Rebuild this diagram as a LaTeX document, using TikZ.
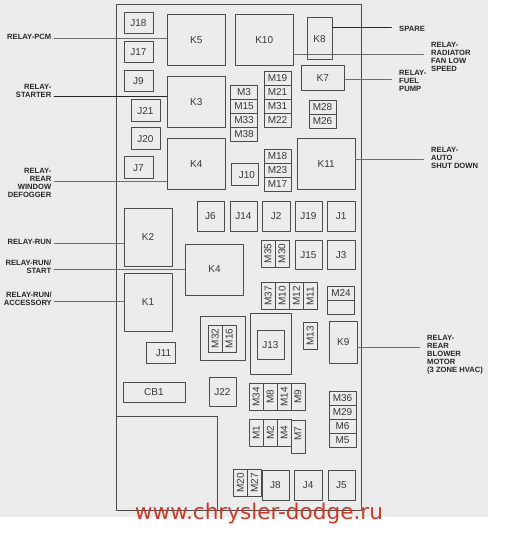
\documentclass[tikz,border=0pt]{standalone}
\usepackage{fontspec}
\setmainfont{Liberation Sans}
\newfontfamily\webfont{DejaVu Sans}
\usetikzlibrary{calc}
\definecolor{panelgrey}{RGB}{236,236,236}
\definecolor{boxline}{RGB}{75,75,75}
\definecolor{softink}{RGB}{55,55,55}
\definecolor{webred}{RGB}{200,58,40}
\tikzset{
  every node/.style={font=\fontsize{10}{10}\selectfont, text=softink},
  fuse/.style={draw=boxline, fill=panelgrey, line width=0.9pt, inner sep=0pt,
    anchor=north west},
  cell/.style={draw=boxline, fill=panelgrey, line width=0.8pt, inner sep=0pt,
    minimum width=27pt, minimum height=14pt},
  vcell/.style={cell, rotate=90},
  leader/.style={draw=boxline!80, line width=0.8pt},
  dark leader/.style={draw=black!85, line width=0.8pt},
  tag/.style={font=\fontsize{7.6}{8}\selectfont\bfseries, text=black!85, inner sep=0pt},
  left tag/.style={tag, align=right, anchor=east},
  right tag/.style={tag, align=left, anchor=west}
}
\begin{document}
\begin{tikzpicture}[x=1pt,y=-1pt,line cap=round,line join=round]
  \useasboundingbox (0,0) rectangle (515,537);
  \fill[panelgrey] (0,0) rectangle (488,517);

  % housing
  \draw[boxline, line width=1pt] (116.5,4.5) rectangle (361.5,510);
  \draw[boxline, line width=1pt] (116.5,416.5) -- (217.5,416.5) -- (217.5,510);

  % outlines round the small groups
  \node[fuse, minimum width=45pt, minimum height=44pt] (M32 frame) at (199.5,316) {};
  \node[fuse, minimum width=41pt, minimum height=61pt] (J13 frame) at (249.5,313) {};

  % relays and junction blocks
  \foreach \nm/\txt/\xa/\ya/\w/\h in {
    J18/J18/123.5/12/29/21, J17/J17/123.5/41/29/21, J9/J9/123.5/70/29/21,
    J21/J21/130.5/99.5/29/21.5, J20/J20/130.5/127.5/29/21.5, J7/J7/123.5/156.5/29/21.5,
    K5/K5/167/14.5/57.5/50.5, K10/K10/235/14.5/57.5/50.5, K8/K8/306.5/17.5/25/42,
    K7/K7\hspace{9pt}/300.5/65.5/43.5/24.5, K3/K3/167/76.5/57.5/50.5, K4/K4/167/138.5/57.5/50.5,
    K11/K11/297/138.5/57.5/50.5, J10/\hspace{5pt}J10/230.5/163.5/27/21.5,
    J6/J6/196.5/201.5/27/29, J14/J14/229.5/201.5/27/29, J2/J2/262/201.5/27.5/29,
    J19/J19/294.5/201.5/27/29, J1/J1/327/201.5/27.5/29,
    K2/K2/123.5/207.5/48/58, K4b/K4/185/243.5/58/51, K1/K1/123.5/272.5/48/58,
    J15/J15/294.5/240/27/29, J3/J3/327/240/27.5/29, K9/K9/329/320.5/27.5/42,
    J13/J13/256.5/330/27/29, J11/\hspace{6pt}J11/145.5/341.5/29/21.5, CB1/CB1/122.5/381.5/62/20,
    J22/J22/208.5/377/27/29, J8/J8/261.5/469.5/27/30,
    J4/J4/294/469.5/27.5/30, J5/J5/327.5/469.5/27/30
  } {
    \node[fuse, minimum width=\w pt, minimum height=\h pt] (\nm) at (\xa,\ya) {\txt};
  }

  % flat fuses
  \foreach \nm/\cx/\cy in {
    M3/244/92, M15/244/106, M33/244/120, M38/244/134,
    M19/277.5/78, M21/277.5/92, M31/277.5/106, M22/277.5/120,
    M18/277.5/156.5, M23/277.5/170.5, M17/277.5/184.5,
    M28/322.5/107.5, M26/322.5/121.5, M24/341/293.5,
    M36/342.5/398, M29/342.5/412, M6/342.5/426, M5/342.5/440
  } {
    \node[cell] (\nm) at (\cx,\cy) {\nm};
  }
  \node[cell] (M24 blank) at (341,307.5) {};

  % upright fuses
  \foreach \nm/\cx/\cy in {
    M35/268/253.5, M30/282/253.5,
    M37/268.3/296, M10/282.3/296, M12/296.3/296, M11/310.3/296,
    M13/310.3/336, M32/215.3/338.5, M16/229.3/338.5,
    M34/256.3/397, M8/270.3/397, M14/284.3/397, M9/298/397,
    M1/256.3/433, M2/270.3/433, M4/284.3/433,
    M20/240.5/483, M27/254.5/483
  } {
    \node[vcell] (\nm) at (\cx,\cy) {\nm};
  }
  \node[vcell, minimum width=33.5pt] (M7) at (298,436.8) {\hspace{6pt}M7};

  % free ends of the connectors
  \coordinate (pcm end) at (54,38.5);
  \coordinate (starter end) at (54,96.5);
  \coordinate (defogger end) at (54,181.5);
  \coordinate (run end) at (54,243);
  \coordinate (start end) at (54,269.5);
  \coordinate (accessory end) at (54,301.5);
  \coordinate (spare end) at (391.5,27.5);
  \coordinate (radiator end) at (423.5,54.5);
  \coordinate (pump end) at (391.5,79.5);
  \coordinate (shutdown end) at (423.5,159);
  \coordinate (blower end) at (420,347.5);

  \draw[leader] (pcm end) -- (pcm end -| K5.west);
  \draw[dark leader] (starter end) -- (starter end -| K3.west);
  \draw[leader] (defogger end) -- (defogger end -| K4.west);
  \draw[leader] (run end) -- (run end -| K2.west);
  \draw[leader] (start end) -- (start end -| K4b.west);
  \draw[leader] (accessory end) -- (accessory end -| K1.west);
  \draw[dark leader] (K8.east |- spare end) -- (spare end);
  \draw[leader] (K10.east |- radiator end) -- (radiator end);
  \draw[leader] (K7.east |- pump end) -- (pump end);
  \draw[leader] (K11.east |- shutdown end) -- (shutdown end);
  \draw[leader] (K9.east |- blower end) -- (blower end);

  % labels
  \node[left tag] (pcm) at (51.5,37) {RELAY-PCM};
  \node[left tag] (starter) at (51.5,90.5) {RELAY-\\STARTER};
  \node[left tag] (defogger) at (51.5,182.5) {RELAY-\\REAR\\WINDOW\\DEFOGGER};
  \node[left tag] (run) at (51.5,241.5) {RELAY-RUN};
  \node[left tag] (start) at (51.5,267) {RELAY-RUN/\\START};
  \node[left tag] (accessory) at (52,299) {RELAY-RUN/\\ACCESSORY};
  \node[right tag] (spare) at (399,29) {SPARE};
  \node[right tag] (radiator) at (431,57) {RELAY-\\RADIATOR\\FAN LOW\\SPEED};
  \node[right tag] (pump) at (399,81) {RELAY-\\FUEL\\PUMP};
  \node[right tag] (shutdown) at (431,158) {RELAY-\\AUTO\\SHUT DOWN};
  \node[right tag] (blower) at (427,354.5) {RELAY-\\REAR\\BLOWER\\MOTOR\\(3 ZONE HVAC)};

  \node[inner sep=0pt, text=webred, font=\webfont\fontsize{21.6}{22}\selectfont] (web) at (259,514) {www.chrysler-dodge.ru};
\end{tikzpicture}
\end{document}
